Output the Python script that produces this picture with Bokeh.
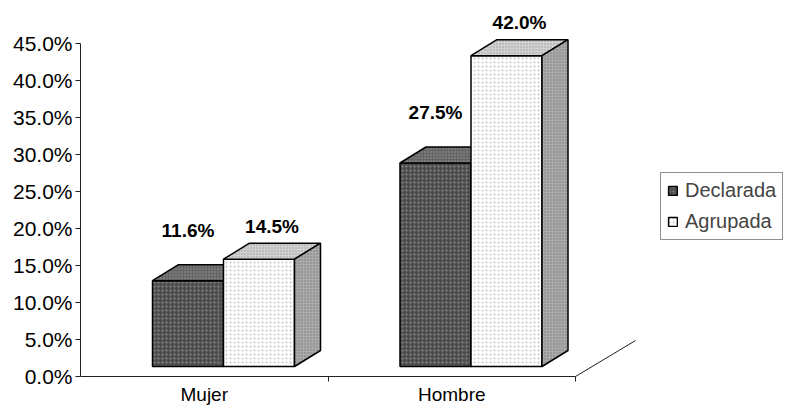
from bokeh.plotting import figure
from bokeh.models import (Range1d, FixedTicker, PrintfTickFormatter, Legend, LegendItem,
                          ColumnDataSource)
from bokeh.core.properties import value
from bokeh.embed import file_html
from bokeh.resources import INLINE

# ---- data ----
categories = ["Mujer", "Hombre"]
series_names = ["Declarada", "Agrupada"]
declarada = [11.6, 27.5]
agrupada = [14.5, 42.0]
y_ticks = [0, 5, 10, 15, 20, 25, 30, 35, 40, 45]

# ---- style constants (3D projection look) ----
PX_X = 247.5          # px per category
PX_Y = 7.4            # px per percent
DX = 26 / PX_X        # depth offset in x (data units)
DY = 16 / PX_Y        # depth offset in y (data units)
BASE = 10 / PX_Y      # front faces sit slightly above the floor edge
BAR_OFF = 72 / PX_X   # first bar offset inside category
BAR_W = 71 / PX_X
FLOOR_DX = 60 / PX_X
FLOOR_DY = 36 / PX_Y
FONT = "Liberation Sans"

styles = [
    dict(front="#4e4e4e", top="#646464", side="#4a4a4a", hatch="#8a8a8a",
         label_dx=0.0, label_dy=4.6),
    dict(front="#ffffff", top="#d2d2d2", side="#aaaaaa", hatch="#c4c4c4",
         label_dx=0.5, label_dy=2.3),
]

n = len(categories)
W, H = 784, 406
LEFT = 80
AXIS_Y = 376          # pixel row of the zero line
p = figure(width=W, height=H, output_backend="svg", toolbar_location=None,
           x_range=Range1d(0, (W - LEFT) / PX_X),
           y_range=Range1d(-(H - AXIS_Y) / PX_Y, AXIS_Y / PX_Y),
           min_border_left=LEFT, min_border_right=0, min_border_top=0, min_border_bottom=0)
p.xgrid.visible = False
p.ygrid.visible = False
p.outline_line_color = None
p.background_fill_color = "white"

# floor right edge diagonal
p.segment(x0=[n], y0=[0], x1=[n + FLOOR_DX], y1=[FLOOR_DY], line_color="#222222", line_width=1)

legend_renderers = []
lx, ly, lt = [], [], []
for ci in range(n):
    for si, vals in enumerate([declarada, agrupada]):
        v = vals[ci]
        st = styles[si]
        x0 = ci + BAR_OFF + si * BAR_W
        x1 = x0 + BAR_W
        b = BASE
        t = BASE + v
        front = p.patch([x0, x1, x1, x0], [b, b, t, t], fill_color=st["front"],
                        line_color="black", line_width=1.5,
                        hatch_pattern=".", hatch_color=st["hatch"], hatch_scale=4, hatch_weight=1)
        p.patch([x0, x1, x1 + DX, x0 + DX], [t, t, t + DY, t + DY], fill_color=st["top"],
                line_color="black", line_width=1.5,
                hatch_pattern=".", hatch_color="#9a9a9a", hatch_scale=3, hatch_weight=1)
        p.patch([x1, x1 + DX, x1 + DX, x1], [b, b + DY, t + DY, t], fill_color=st["side"],
                line_color="black", line_width=1.5,
                hatch_pattern=".", hatch_color="#7a7a7a", hatch_scale=3, hatch_weight=1)
        if ci == 0:
            legend_renderers.append(front)
        lx.append(x0 + BAR_W / 2 + DX * st["label_dx"])
        ly.append(t + DY + st["label_dy"])
        lt.append(f"{v:.1f}%")

src = ColumnDataSource(dict(x=lx, y=ly, t=lt))
p.text(x="x", y="y", text="t", source=src, text_align="center", text_baseline="middle",
       text_font=value(FONT), text_font_size="19px", text_font_style="bold", text_color="black")

# y axis
p.yaxis.ticker = FixedTicker(ticks=y_ticks)
p.yaxis.formatter = PrintfTickFormatter(format="%.1f%%")
p.yaxis.bounds = (0, 45)
p.yaxis.major_tick_out = 5
p.yaxis.major_tick_in = 0
p.yaxis.minor_tick_line_color = None
p.yaxis.major_label_standoff = 3
p.yaxis.major_label_text_font = FONT
p.yaxis.major_label_text_font_size = "21px"
p.yaxis.major_label_text_color = "black"
p.yaxis.axis_line_color = "#222222"
p.yaxis.major_tick_line_color = "#222222"

# x axis (drawn at the zero line)
centers = [i + 0.5 for i in range(n)]
p.xaxis.fixed_location = 0
p.xaxis.ticker = FixedTicker(ticks=centers, minor_ticks=list(range(1, n + 1)))
p.xaxis.major_label_overrides = {c: lab for c, lab in zip(centers, categories)}
p.xaxis.bounds = (0, n)
p.xaxis.major_tick_out = 0
p.xaxis.major_tick_in = 0
p.xaxis.minor_tick_out = 5
p.xaxis.minor_tick_in = 0
p.xaxis.major_label_standoff = 2
p.xaxis.major_label_text_font = FONT
p.xaxis.major_label_text_font_size = "19px"
p.xaxis.major_label_text_color = "black"
p.xaxis.axis_line_color = "#222222"
p.xaxis.minor_tick_line_color = "#222222"

legend = Legend(items=[LegendItem(label=series_names[i], renderers=[legend_renderers[i]])
                       for i in range(2)],
                location=(660 - LEFT, H - 240))
legend.label_text_font = FONT
legend.label_text_font_size = "20px"
legend.label_height = 22
legend.glyph_height = 11
legend.glyph_width = 11
legend.label_standoff = 7
legend.spacing = 8
legend.padding = 6
legend.margin = 0
legend.border_line_color = "#222222"
legend.border_line_width = 1
legend.background_fill_color = "white"
p.add_layout(legend)

open("out.html", "w").write(file_html(p, INLINE))
